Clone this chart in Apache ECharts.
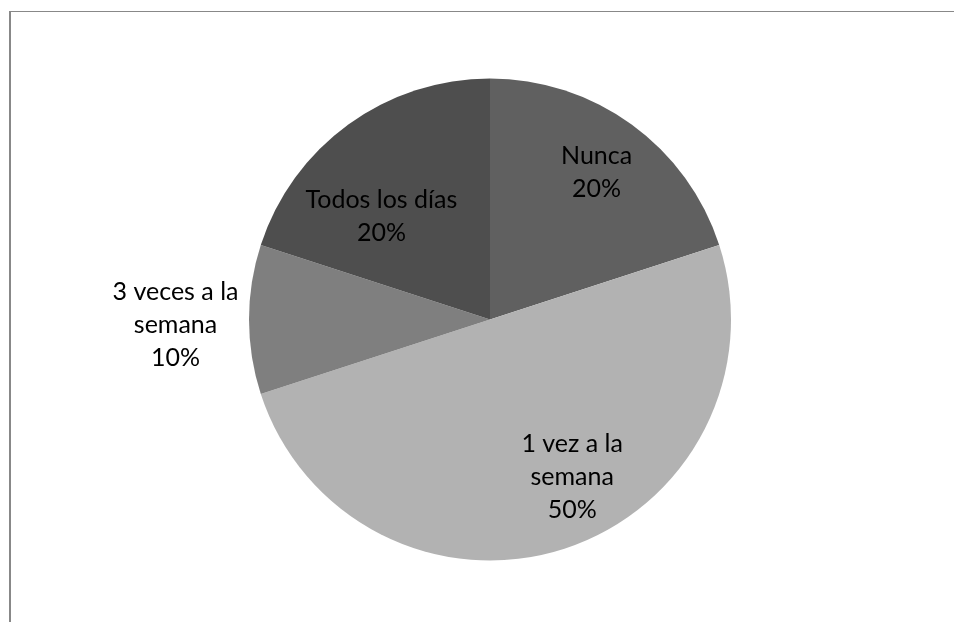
<!DOCTYPE html>
<html>
<head>
<meta charset="utf-8">
<script src="https://cdn.jsdelivr.net/npm/echarts@6/dist/echarts.min.js"></script>
<style>
  html, body { margin: 0; padding: 0; background: #fff; }
  .frame {
    position: absolute; left: 9px; top: 11px; width: 945px; height: 611px;
    border-top: 1px solid #888; border-left: 2px solid #888; box-sizing: border-box;
  }
  #chart { position: absolute; left: 0; top: 0; width: 954px; height: 622px; }
</style>
</head>
<body>
<div class="frame"></div>
<div id="chart"></div>
<script>
// datos de la encuesta
const categories = ['Nunca', '1 vez a la\nsemana', '3 veces a la\nsemana', 'Todos los días'];
const values = [20, 50, 10, 20];
const colors = ['#606060', '#b2b2b2', '#7f7f7f', '#4e4e4e'];
// desplazamiento de cada etiqueta respecto a la posición 'inside'
const labelOffsets = [[34, -47], [44, 40], [-191, 5], [-36, -3]];

const chart = echarts.init(document.getElementById('chart'));
chart.setOption({
  animation: false,
  series: [
    {
      type: 'pie',
      center: [490, 319.5],
      radius: 241,
      startAngle: 90,
      clockwise: true,
      avoidLabelOverlap: false,
      emphasis: { disabled: true },
      itemStyle: { borderWidth: 0 },
      label: {
        show: true,
        position: 'inside',
        color: '#000',
        fontFamily: 'Lato',
        fontSize: 25,
        lineHeight: 33,
        align: 'center',
        formatter: (p) => p.name + '\n' + p.value + '%'
      },
      labelLine: { show: false },
      data: categories.map((name, i) => ({
        name,
        value: values[i],
        itemStyle: { color: colors[i] },
        label: { offset: labelOffsets[i] }
      }))
    }
  ]
});
</script>
</body>
</html>
